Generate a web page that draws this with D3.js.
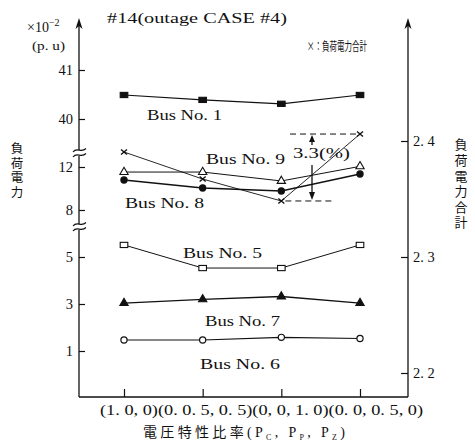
<!DOCTYPE html>
<html>
<head>
<meta charset="utf-8">
<script src="https://cdn.jsdelivr.net/npm/d3@7"></script>
<style>
  body { margin: 0; background: #fff; }
  svg text { font-family: 'Liberation Serif', 'DejaVu Serif', serif; fill: #111; }
  svg text.jp { font-family: 'Noto Sans CJK JP', sans-serif; }
</style>
</head>
<body>
<script>
// 横軸: 電圧特性比率
let categories = ['(1. 0, 0)', '(0. 0. 5,  0. 5)', '(0, 0, 1. 0)', '(0. 0, 0. 5, 0)']
// 負荷電力 (x10^-2 p.u)
let bus1 = [40.49, 40.39, 40.31, 40.49]
let bus9 = [11.53, 11.53, 10.70, 12.37]
let bus8 = [10.79, 10.05, 9.77, 11.35]
let bus5 = [5.77, 4.53, 4.53, 5.77]
let bus7 = [3.04, 3.20, 3.32, 3.04]
let bus6 = [1.47, 1.47, 1.58, 1.53]
// 負荷電力合計 (右軸)
let totalLoad = [2.3905, 2.3672, 2.3483, 2.4060]
// 目盛
let leftTicks = [41, 40, 12, 8, 5, 3, 1]
let rightTicks = [2.2, 2.3, 2.4]

let W = 475
let H = 444
let axL = 79, axR = 408, axB = 397, axTop = 18

let svg = d3.select('body').append('svg')
  .attr('width', W).attr('height', H)
  .style('background', '#fff')

let x = d3.scalePoint().domain(categories).range([124, 360])
// 左軸は途中を省略した折れ線スケール
let yL = d3.scaleLinear().domain([1, 5, 8, 12, 40, 41]).range([351, 257, 210, 167, 119, 70])
let yR = d3.scaleLinear().domain([2.2, 2.4]).range([373, 141])

function arrowHead (cx) {
  svg.append('path')
    .attr('d', 'M' + cx + ',' + axTop + ' L' + (cx - 3.5) + ',' + (axTop + 11) + ' L' + cx + ',' + (axTop + 8) + ' L' + (cx + 3.5) + ',' + (axTop + 11) + ' Z')
    .attr('fill', '#111')
}

// 軸線
svg.append('line').attr('x1', axL).attr('x2', axL).attr('y1', axTop + 4).attr('y2', axB)
  .attr('stroke', '#111').attr('stroke-width', 1.3)
svg.append('line').attr('x1', axR).attr('x2', axR).attr('y1', axTop + 4).attr('y2', axB)
  .attr('stroke', '#111').attr('stroke-width', 1.3)
svg.append('line').attr('x1', axL).attr('x2', axR).attr('y1', axB).attr('y2', axB)
  .attr('stroke', '#111').attr('stroke-width', 1.3)
arrowHead(axL)
arrowHead(axR)

let gL = svg.append('g').attr('transform', 'translate(' + axL + ',0)')
  .call(d3.axisLeft(yL).tickValues(leftTicks).tickSize(-6).tickPadding(6).tickFormat(d3.format('d')))
gL.select('.domain').remove()
gL.attr('font-size', 14.5).attr('font-family', null)
gL.selectAll('line').attr('stroke', '#111').attr('stroke-width', 1.2)

let gR = svg.append('g').attr('transform', 'translate(' + axR + ',0)')
  .call(d3.axisRight(yR).tickValues(rightTicks).tickSize(-7).tickPadding(5)
    .tickFormat(function (d) { return d.toFixed(1).replace('.', '. ') }))
gR.select('.domain').remove()
gR.attr('font-size', 14.5).attr('font-family', null)
gR.selectAll('line').attr('stroke', '#111').attr('stroke-width', 1.2)

let gB = svg.append('g').attr('transform', 'translate(0,' + axB + ')')
  .call(d3.axisBottom(x).tickSize(-8).tickSizeOuter(0).tickFormat(''))
gB.select('.domain').remove()
gB.selectAll('line').attr('stroke', '#111').attr('stroke-width', 1.2)

// 横軸ラベル (一行で組む)
svg.append('text')
  .attr('x', 100).attr('y', 415)
  .attr('font-size', 14)
  .attr('textLength', 323).attr('lengthAdjust', 'spacingAndGlyphs')
  .text(categories.join(''))

// 軸の省略記号
function axisBreak (yy) {
  svg.append('rect').attr('x', axL - 3).attr('y', yy - 3).attr('width', 6).attr('height', 6).attr('fill', '#fff')
  ;[-2.5, 2.5].forEach(function (o) {
    svg.append('path')
      .attr('d', 'M' + (axL - 6) + ',' + (yy + o + 1.5) + ' C' + (axL - 2) + ',' + (yy + o - 4) + ' ' + (axL + 2) + ',' + (yy + o + 3) + ' ' + (axL + 7) + ',' + (yy + o - 2))
      .attr('fill', 'none').attr('stroke', '#111').attr('stroke-width', 1.2)
  })
}
axisBreak(yL(12) - 14)
axisBreak(yL(5) - 30)

// 系列
let series = [
  {values: bus1, scale: yL, marker: 'square', filled: true, width: 1.2},
  {values: bus9, scale: yL, marker: 'triangle', filled: false, width: 1},
  {values: bus8, scale: yL, marker: 'circle', filled: true, width: 1.5},
  {values: bus5, scale: yL, marker: 'square', filled: false, width: 1},
  {values: bus7, scale: yL, marker: 'triangle', filled: true, width: 1.3},
  {values: bus6, scale: yL, marker: 'circle', filled: false, width: 1.1},
  {values: totalLoad, scale: yR, marker: 'cross', filled: false, width: 0.9}
]

series.forEach(function (s) {
  let line = d3.line()
    .x(function (d, i) { return x(categories[i]) })
    .y(function (d) { return s.scale(d) })
  svg.append('path').datum(s.values)
    .attr('d', line)
    .attr('fill', 'none').attr('stroke', '#111').attr('stroke-width', s.width)
  let g = svg.append('g')
  s.values.forEach(function (v, i) {
    let cx = x(categories[i])
    let cy = s.scale(v)
    let fill = s.filled ? '#111' : '#fff'
    if (s.marker === 'square') {
      g.append('rect').attr('x', cx - 3.8).attr('y', cy - 2.6).attr('width', 7.6).attr('height', 5.2)
        .attr('fill', fill).attr('stroke', '#111').attr('stroke-width', 1.1)
    } else if (s.marker === 'circle') {
      g.append('circle').attr('cx', cx).attr('cy', cy).attr('r', 3.1)
        .attr('fill', fill).attr('stroke', '#111').attr('stroke-width', 1.2)
    } else if (s.marker === 'triangle') {
      g.append('path').attr('d', d3.symbol(d3.symbolTriangle, 30)())
        .attr('transform', 'translate(' + cx + ',' + cy + ')')
        .attr('fill', fill).attr('stroke', '#111').attr('stroke-width', 1.1)
    } else {
      g.append('path').attr('d', 'M' + (cx - 3) + ',' + (cy - 2.5) + 'L' + (cx + 3) + ',' + (cy + 2.5) + 'M' + (cx - 3) + ',' + (cy + 2.5) + 'L' + (cx + 3) + ',' + (cy - 2.5))
        .attr('stroke', '#111').attr('stroke-width', 1.4)
    }
  })
})

// 変動幅の注記
let tMax = d3.max(totalLoad)
let tMin = d3.min(totalLoad)
let arX = 312
svg.append('line').attr('x1', 290).attr('x2', x(categories[3])).attr('y1', yR(tMax)).attr('y2', yR(tMax))
  .attr('stroke', '#111').attr('stroke-dasharray', '6,4')
svg.append('line').attr('x1', x(categories[2]) + 4).attr('x2', 332).attr('y1', yR(tMin)).attr('y2', yR(tMin))
  .attr('stroke', '#111').attr('stroke-dasharray', '6,4')
svg.append('line').attr('x1', arX).attr('x2', arX).attr('y1', yR(tMax) + 4).attr('y2', 145)
  .attr('stroke', '#111').attr('stroke-width', 1.3)
svg.append('path').attr('d', 'M' + arX + ',' + (yR(tMax) + 1) + ' l-3,7 l6,0 Z').attr('fill', '#111')
svg.append('line').attr('x1', arX).attr('x2', arX).attr('y1', 165).attr('y2', yR(tMin) - 4)
  .attr('stroke', '#111').attr('stroke-width', 1.3)
svg.append('path').attr('d', 'M' + arX + ',' + (yR(tMin) - 1) + ' l-3,-8 l6,0 Z').attr('fill', '#111')
svg.append('text').attr('x', 293).attr('y', 158).attr('font-size', 15)
  .attr('textLength', 57).attr('lengthAdjust', 'spacingAndGlyphs').text('3.3(%)')

// 系列名
let busLabels = [
  {t: 'Bus No. 1', x: 147, y: 120, w: 75},
  {t: 'Bus No. 9', x: 206, y: 164, w: 79},
  {t: 'Bus No. 8', x: 125, y: 208, w: 79},
  {t: 'Bus No. 5', x: 183, y: 258, w: 79},
  {t: 'Bus No. 7', x: 205, y: 326, w: 75},
  {t: 'Bus No. 6', x: 200, y: 369, w: 80}
]
svg.selectAll('.busLabel').data(busLabels).enter().append('text')
  .attr('class', 'busLabel')
  .attr('x', function (d) { return d.x })
  .attr('y', function (d) { return d.y })
  .attr('font-size', 14.5)
  .attr('textLength', function (d) { return d.w })
  .attr('lengthAdjust', 'spacingAndGlyphs')
  .text(function (d) { return d.t })

// タイトル・単位
svg.append('text').attr('x', 107).attr('y', 23).attr('font-size', 14)
  .attr('textLength', 180).attr('lengthAdjust', 'spacingAndGlyphs')
  .text('#14(outage CASE #4)')
let unit = svg.append('text').attr('x', 27).attr('y', 32).attr('font-size', 14)
unit.append('tspan').text('×10')
unit.append('tspan').attr('font-size', 10).attr('dy', -6).text('−2')
svg.append('text').attr('x', 32).attr('y', 50).attr('font-size', 13)
  .attr('textLength', 33).attr('lengthAdjust', 'spacingAndGlyphs').text('(p. u)')

svg.append('text').attr('class', 'jp').attr('x', 307).attr('y', 51).attr('font-size', 12)
  .attr('textLength', 60).attr('lengthAdjust', 'spacingAndGlyphs')
  .text('×：負荷電力合計')

// 縦書きの軸名
svg.append('text').attr('class', 'jp')
  .attr('x', 17).attr('y', 142)
  .attr('writing-mode', 'vertical-rl')
  .attr('font-size', 12.5).attr('letter-spacing', 2)
  .text('負荷電力')
svg.append('text').attr('class', 'jp')
  .attr('x', 461).attr('y', 138)
  .attr('writing-mode', 'vertical-rl')
  .attr('font-size', 13).attr('letter-spacing', 2.6)
  .text('負荷電力合計')

// 横軸名
let xt = svg.append('text').attr('x', 143).attr('y', 437).attr('font-size', 14)
  .attr('textLength', 202).attr('lengthAdjust', 'spacing')
xt.append('tspan').attr('class', 'jp').style('font-family', "'Noto Sans CJK JP', sans-serif").text('電圧特性比率')
xt.append('tspan').text('(P')
xt.append('tspan').attr('font-size', 8).attr('dy', 3).text('C')
xt.append('tspan').attr('dy', -3).text(',  P')
xt.append('tspan').attr('font-size', 8).attr('dy', 3).text('P')
xt.append('tspan').attr('dy', -3).text(',  P')
xt.append('tspan').attr('font-size', 8).attr('dy', 3).text('Z')
xt.append('tspan').attr('dy', -3).text(')')
</script>
</body>
</html>
